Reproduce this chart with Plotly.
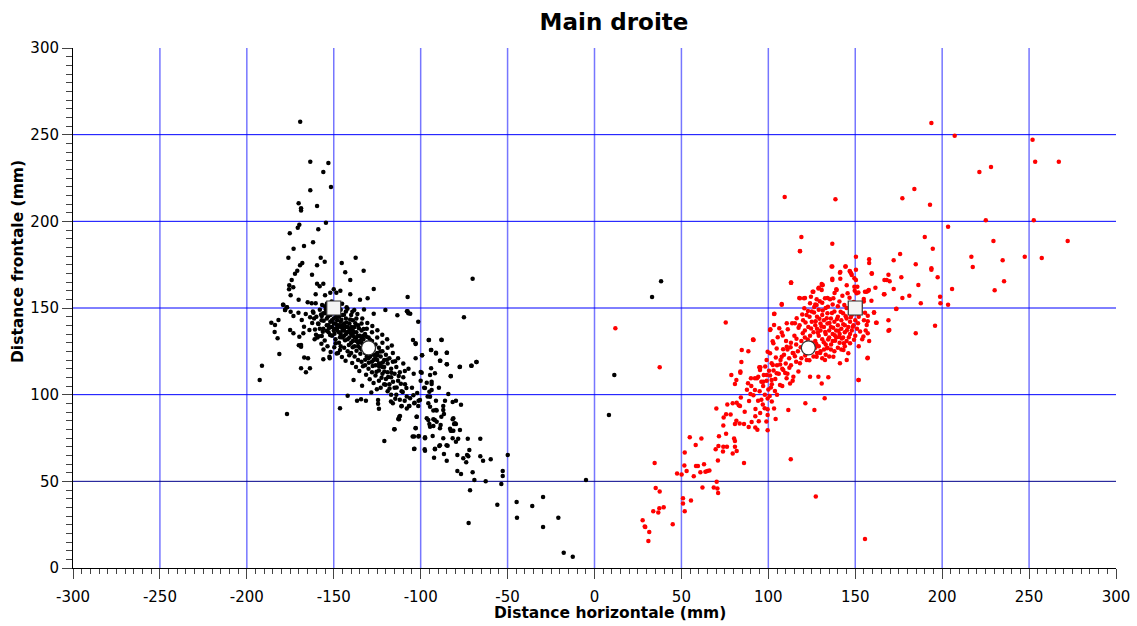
import plotly.graph_objects as go

# Main gauche (points noirs) : distance horizontale / frontale en mm
gauche = [
    (-169.3,257.5),(-163.5,234.4),(-153.1,233.7),(-156,228.5),(-163.5,217.9),(-151.6,219.8),
    (-170.2,210.4),(-168.8,207.5),(-168.8,206.2),(-159.6,208.8),(-154.5,199.2),(-169.8,198.1),
    (-170.7,196.3),(-158.9,195.4),(-175.3,193.1),(-161.9,187.9),(-173.1,184.2),(-167.1,185.8),
    (-176.1,179),(-157.5,179),(-137.4,179),(-155.2,176.7),(-169.4,174.6),(-168.1,176),
    (-159.6,174.6),(-145.4,176),(-171,171.5),(-172.3,169.8),(-162.5,169.2),(-143.4,170.6),
    (-132.8,171.5),(-174.2,166.2),(-175.6,163.1),(-140.5,166.2),(-159.6,164),(-158.1,162.5),
    (-156,164),(-173.3,161.9),(-175.7,160.8),(-127,161),(-150,160.8),(-152,158.8),(-148.5,158.8),
    (-146.2,160),(-160.4,157.9),(-155,157.3),(-174.8,157.3),(-140.5,157.9),(-170.2,154.8),
    (-134.9,154.8),(-130.5,155.6),(-107.5,156.3),(-70.1,166.9),(-179.2,151.9),(-176.9,150.4),
    (-178,148.8),(-165,153.3),(-162.7,152.7),(-160.4,152.7),(-142.6,150.4),(-138.2,148.8),
    (-132.6,149.2),(-127,146.7),(-120.3,148.8),(-107.5,148.1),(-106,146.7),(-75.1,144.6),
    (-113.4,145.8),
    (-191.3,116.7),(-192.6,108.5),(-181.3,123.5),(-176.9,88.8),(-146.4,92.1),(-142,99.4),
    (-168.8,115.2),(-166,112.9),(-163.7,115.2),(-167,121.5),(-164.8,121),(-156,120.4),(-152.3,121),
    (-185.9,141.5),(-184,136.2),(-182.3,132.5),(-136.6,96.5),(-134.3,97.3),(-131.5,96.5),
    (-124.5,96.9),(-124.5,94.8),(-124,91.9),(-120.9,73.3),(-115.2,80),(-112.9,86),(-112.3,87.3),
    (-110.9,93.5),(-106.5,93.5),(-103.7,95),(-101.4,93.5),(-102.3,87.3),(-102.9,80.8),(-103.8,75.8),
    (-103.8,68.7),(-101.1,76.2),(-97.5,75.4),(-97.5,67.7),(-100.4,96.9),(-95.6,95),(-94.6,98.8),
    (-93.7,102.7),(-93.7,107.5),(-95,83.1),(-91.9,85.4),(-92.7,81.9),(-88.1,87.3),(-91.2,91.2),
    (-87,91.2),(-87,93.5),(-91.8,68.5),(-92.3,63.6),(-88.9,70.8),(-86.6,65.8),(-85,61.9),
    (-84.5,70.6),(-81.6,74.8),(-79.7,72.9),(-78.4,74.6),(-83.1,80.4),(-81.2,86.4),(-80.3,83.5),
    (-77.4,79.6),(-82.2,79.2),(-78.9,65.2),(-75.5,63.3),(-73.3,65.2),(-73.8,61),(-72,68.1),
    (-72.6,64.4),(-72.9,74.6),(-65.7,74.6),(-78.9,56),(-76.8,54.2),(-70.1,55.2),(-69.1,50.8),
    (-71.6,44.8),(-72.4,26),(-65.7,64.4),(-64.1,61.9),(-59.7,62.7),(-62.6,50),(-77.4,116.1),
    (-70.9,116.7),(-68,118.8),(-82.7,110.8),(-49.9,65.2),(-52.8,56),(-52.8,53.1),(-53.6,48.5),
    (-55.9,36.5),(-44.8,38.1),(-44.6,29),(-35.8,35.8),(-88.1,131.7),(-85,124.2),(-94.1,125.8),
    (-91.2,124.2),(-88.9,119.6),(-85,117.5),(-95.4,131.5),(-99.2,122.7),(-99.4,112.7),(-100,113.1),
    (-104.4,131.5),(-102.9,129.6),(-101.4,142.1),(-107.1,146.9),(-107.9,148.1),
    (-29.6,41),(-29.6,23.7),(-20.8,29),(-17.7,8.8),(-12.5,6.5),(-4.9,50.8),
    (38.3,165.4),(33.1,156.3),(11.4,111.3),(8.3,88.3),
    (-179,151.9),(-177,150.4),(-174.8,147.9),(-178,148.8),(-173.2,145.4),(-170.3,147.3),
    (-168.4,143.1),(-166.1,146.5),(-163.6,144.6),(-161.7,147.3),(-161.3,144),(-158.8,140.8),
    (-156.9,145.4),(-155,146.9),(-160.2,134.6),(-156.9,133.8),(-156.3,136.3),(-154,136.9),
    (-152.1,134.4),(-148.9,129.6),(-155.9,126.1),(-152.5,121.9),(-148.3,123.8),(-146.4,125.8),
    (-183.8,140.2),(-181.8,143.1),(-175.1,137.3),(-173.2,135.4),(-169.8,133.4),(-168.8,128.6),
    (-167.5,135.4),(-167.1,139.2),(-164,137.3),(-161,131.9),(-159.4,133),(-170.1,128.5),
    (-168.8,127.7),
    (-158,149),(-156,147),(-155,151),(-154,144),(-153,148),(-152,146),(-152,142),(-151,139),
    (-150,144),(-150,141),(-149,147),(-149,138),(-148,143),(-148,140),(-147,145),(-147,136),
    (-146,142),(-146,139),(-145,146),(-145,137),(-144,141),(-144,134),(-143,139),(-143,144),
    (-142,136),(-142,132),(-141,141),(-141,138),(-140,135),(-140,130),(-139,143),(-139,137),
    (-138,133),(-138,139),(-137,131),(-137,136),(-136,140),(-136,128),(-135,134),(-135,131),
    (-134,137),(-134,126),(-133,132),(-133,129),(-132,135),(-132,124),(-131,130),(-131,127),
    (-130,133),(-130,121),(-129,128),(-129,125),(-128,131),(-128,119),(-127,126),(-127,123),
    (-126,129),(-126,117),(-125,124),(-125,120),(-124,127),(-124,114),(-123,122),(-123,118),
    (-122,125),(-122,112),(-121,120),(-121,116),(-120,123),(-120,109),(-119,118),(-119,113),
    (-118,121),(-118,106),(-117,115),(-117,110),(-116,119),(-115,112),(-115,104),(-114,116),
    (-113,108),(-112,113),(-111,102),(-110,110),(-109,106),(-108,99),
    (-153,140),(-151,143),(-150,137),(-149,141),(-148,137),(-147,140),(-146,135),(-145,140),
    (-145,133),(-144,137),(-143,135),(-142,139),(-141,133),(-140,137),(-139,131),(-139,134),
    (-138,128),(-137,133),(-136,130),(-135,127),(-134,130),(-133,134),(-132,127),(-131,122),
    (-130,126),(-129,122),(-127,120),(-126,123),(-124,118),(-122,116),(-157,143),(-156,138),
    (-154,140),(-153,136),(-151,134),(-149,132),(-147,130),(-146,128),(-144,127),(-142,125),
    (-140,124),(-138,122),(-136,120),(-134,119),(-132,117),(-130,115),(-128,113),(-126,111),
    (-124,108),(-123,104),(-121,106),(-119,102),(-117,100),(-160,145),(-159,141),(-158,138),
    (-162,148),(-146,149),(-143,148),(-140,146),(-137,144),(-134,141),(-131,138),(-128,136),
    (-125,133),(-122,130),(-119,127),(-116,124),(-113,121),(-110,118),(-107,115),(-104,112),
    (-100,108),(-105,104),(-102,101),(-98,104),(-96,99),(-112,97),(-108,92),(-114,100),(-116,95),
    (-95.2,131.5),(-102.9,129.2),(-87.9,131.5),(-93.9,125.8),(-91.2,123.8),(-84.9,124.2),
    (-88.7,119.6),(-84.9,117.5),(-77.6,116),(-70.7,116.7),(-67.8,118.8),(-82.7,110.6),
    (-99.2,122.7),(-102.9,121),(-94,115.2),(-94.6,111.3),(-91.8,112.3),(-96.5,106.9),
    (-93.7,106.2),(-97.5,103.8),(-89.5,104),(-95,101.7),(-84.1,100.4),(-81.6,95.8),(-79.7,96.5),
    (-76.8,94.2),(-86,96.5),(-91.2,96.5),(-94.6,93.1),(-92.7,90.8),(-90.8,90.8),(-86.6,88.8),
    (-95.6,85.4),(-96.5,86.4),(-92.7,85.8),(-90.8,84.4),(-88.5,82.5),(-88.9,80.6),(-94.6,81.5),
    (-81.6,85.8),(-80.8,83.1),(-82.7,79.2),(-81.2,79.2),(-79.7,83.1),(-97.5,74.8),(-93.1,76.2),
    (-87,74.8),(-89.3,70.4),(-85.1,70.8),(-91.8,68.8),(-97.7,68.5),(-103.6,68.8),(-104.6,75.8),
    (-102.9,80.6),(-101.3,75.8),(-102.3,87.3),(-106.1,97.9),(-103.5,95.4),(-101.2,96.5),
    (-111.9,87.7),(-112.5,85.8),(-115,80),(-111.1,93.3),(-106.7,93.5),(-109.2,96.5),
    (-104.2,99.6),(-117.1,96),(-114.6,97.7),
    (-157.3,146.2),(-155.8,142.7),(-154.6,149.1),(-153.2,145.3),(-152.7,138.4),(-151.4,150.2),
    (-150.8,146.9),(-149.6,135.2),(-148.7,144.8),(-147.9,138.9),(-147.2,149.3),(-146.4,133.1),
    (-145.6,143.2),(-144.8,138.7),(-144.1,146.1),(-143.5,131.4),(-142.7,141.6),(-141.9,136.2),
    (-141.3,128.6),(-140.6,143.4),(-139.8,139.1),(-139.1,127.3),(-138.4,135.8),(-137.6,141.2),
    (-136.9,125.4),(-136.2,133.9),(-135.5,138.3),(-134.7,123.6),(-134.1,132.8),(-133.4,127.1),
    (-132.8,137.9),(-131.9,120.2),(-131.2,133.4),(-130.5,129.6),(-129.8,118.4),(-129.1,131.7),
    (-128.3,126.1),(-127.6,116.5),(-126.9,128.3),(-126.2,120.9),(-125.4,113.2),(-124.7,122.6),
    (-123.9,116.3),(-123.2,124.9),(-122.5,109.8),(-121.8,118.6),(-120.9,113.4),(-120.2,105.7),
    (-119.4,120.1),(-118.7,110.2),(-117.9,103.6),(-116.8,112.7),(-115.9,107.4),(-114.7,119.3),
    (-113.8,104.2),(-112.6,110.8),(-111.4,106.3),(-110.3,101.5),(-109.1,113.6),(-108.2,103.9),
    (-156.7,151.8),(-153.9,152.6),(-151.2,153.7),(-148.4,151.1),(-145.2,152.4),(-142.1,149.6),
    (-139.3,147.8),(-136.4,146.5),(-133.6,143.9),(-130.7,141.4),(-127.8,139.6),(-124.9,137.2),
    (-122.1,134.5),(-119.3,131.9),(-116.6,128.4),(-162.4,141.3),(-160.8,137.6),(-158.6,133.7),
    (-157.1,129.4),(-155.2,131.2),(-153.6,127.9),(-151.8,124.6),(-149.7,127.3),(-147.5,124.1),
    (-145.3,121.8),(-143.2,119.6),(-141.1,122.7),(-139.4,118.3),(-137.2,115.9),(-135.3,113.7),
    (-133.2,116.4),(-131.4,111.5),(-129.3,108.9),(-127.1,106.7),(-125.2,103.1),(-133.7,105.2),
    (-138.6,108.4),(-128.4,101.2),
]

# Main droite (points rouges)
droite = [
    (193.8,256.7),(207.2,249.4),(252,247.1),(253.5,234.4),(267.1,234.4),(221.4,228.5),
    (228.1,231.3),(184,218.7),(177.1,213.3),(193,209.6),(109.4,214),(138.6,212.7),(225.1,200.6),
    (252.7,200.6),(203.4,196.9),(190,191),(229.5,188.7),(272.2,188.7),(194.6,184.2),(119,191),
    (118.2,182.7),(136.8,187.1),(216.8,179.6),(217.6,173.7),(247.5,179.6),(257.3,178.9),
    (234.8,177.5),(235.6,165.4),(230.2,160.2),(205.7,161),(175.8,181.2),(172.1,177.5),
    (184.8,175.2),(193.8,172.9),(193.8,172.1),(197.4,167.7),(169.1,169.2),(169.8,165.4),
    (166.8,166.2),(176.5,167.7),(172.1,161),(186.3,163.3),(181.1,157.1),(177.1,155.8),
    (166.8,157.9),(198.8,156.5),(199,152.7),(203.4,151.9),(187.7,152.7),(173.7,149.6),
    (169.1,142.9),(169.1,136.9),(184.8,135.4),(195.9,139.8),(158,178.1),(158,176),(159.5,169.8),
    (161.6,161.7),(159.3,154.2),(156.6,159.4),(157.8,160.4),(160.8,147.5),(162.3,141.5),
    (157.2,145.6),(157.2,142.3),(157.2,135.4),(158,131),(157.2,121.3),(150.4,179.6),(144.3,173.9),
    (141.4,170.8),(136.8,173.9),(141.4,166.9),(146.8,171.4),(147.6,170),(150.4,172.1),
    (149.5,167.1),(136.8,166.9),(145.1,163.1),(130.7,163.9),(130.9,163.1),(125.5,159.4),
    (129,161.7),(139.1,160.8),(134.1,155.8),(113.1,164.6),(107.7,151.9),(118.2,155.6),
    (120.5,155.6),(91.4,131.7),(84.7,125.8),(88.5,125),(151.8,159),(149.5,162.3),(149.7,160),
    (154.9,155.2),(154.9,153.7),(103.5,146.7),(101.2,137.7),(102.5,130.8),(99.6,124.8),
    (118.2,182.9),(12,138.3),(37.5,115.8),(75.5,141.6),(113.1,164.7),(91.2,131.8),(84.5,118.9),
    (78.7,111.4),(80.8,106.2),(81.6,108.5),(83.9,113.3),(83.9,112.7),(88.3,106.6),(90,109.5),
    (90.2,105),(91.4,99.7),(89.7,100.4),(92.3,102.7),(94.8,115.8),(95.4,115.8),(93.5,109.5),
    (96,107.5),(70.1,92),(76.4,94.3),(79.5,95),(81.8,95.4),(83.7,93.5),(83,93.9),(74.3,86.8),
    (75.7,88.7),(78.3,88.5),(81.6,85),(80.8,83.1),(83.5,83.3),(86,83.1),(88.7,81.4),(90.4,84.3),
    (92.5,87.5),(94.5,84.6),(98.9,84.5),(74.1,82.2),(75.7,77.5),(71.6,76),(74.1,70),(76.2,70),
    (80.3,74.7),(80.8,73.3),(80.8,70),(81.8,67.5),(79.5,66),(73.9,67.2),(71.3,70.4),(69.7,68.5),
    (71,62),(86,60.6),(70.3,49.7),(68.6,46.4),(70.7,45.8),(71.1,43.3),(54.8,75.4),(61.5,74.7),
    (58.2,71),(51.9,66.6),(51.7,59.1),(50.1,53.9),(47.5,54.5),(53,56),(57.1,52.9),(58.4,58.9),
    (59.5,58.9),(63,59.9),(60.9,55.2),(63.8,55.6),(64.9,56),(66.1,56.2),(62.1,46.4),(50.9,40.2),
    (50.9,37.2),(55.5,38.9),(51.9,32.7),(34.6,60.6),(35.2,46.2),(37.5,44.1),(39.8,35),(37.3,34.5),
    (36.7,32),(33.8,32.7),(27.7,27.5),(28.9,23.9),(29.2,23.7),(31.5,20.8),(31,15.6),(45,25.2),
    (112.9,62.7),(127.3,41.2),(121.3,95),(126.5,91.2),(132.4,97.9),(111.5,91.2),(99.6,91.6),
    (99.6,88.3),(104.2,86),(103.3,92),(99.6,79.5),(93.7,79.7),(92.5,81),(151.8,108.5),(155.6,16.7),
    (136.4,173.9),(144.5,173.9),(147,171),(148,169),(141.2,170.4),(136.8,166.2),(131.3,163.3),
    (130.7,160.4),(128.8,161.3),(125.9,159.4),(139.3,160.4),(145.6,158.5),(150.8,158.5),
    (151.2,162.3),(150.4,166.2),(159.5,170),(157.5,160),(155.6,159.4),(166.5,157.9),(168.1,166.2),
    (113,164.6),(107.7,152.3),(117.8,155.8),(121.1,155.8),(124.5,156.5),(127.8,155),(132.6,155.6),
    (135.5,155),(137.4,155.6),(140.9,153.7),(143.7,151.7),(127.8,151.7),(124,152.7),(120.7,149.8),
    (160.8,147.3),(162,141.5),(156.6,140.2),(154.7,133.5),(157,121),(152,108.5),(173.5,149.4),
    (169.6,137.3),(91.4,131.5),(103.3,146.5),(103.3,140.2),(101,137.3),(106.3,138.3),(110.6,141.2),
    (115.3,141.2),(107.7,135.8),(105.4,133.1),(102.9,129.6),(104.8,126.7),(101,123.9),(99,120),
    (101.9,118.1),(95.2,114.2),(94.2,110.4),(99,111.4),(104.8,112.3),(108.6,114.2),(110.5,109.4),
    (114.4,110.4),(117.3,113.3),(124,110.4),(128.8,110.4),(134.5,110),(130.7,106.5),(112.5,106.5),
    (106.7,105.6),(101.9,108.5),(97.1,107.5),(92.3,109.4),(118.2,118.1),(122.1,120),(127.8,121.9),
    (132.6,120),(137.4,121.9),(143.2,125.8),(146,123.9),(147,129.6),(114.4,123.9),(110.6,127.7),
    (107.7,121.9),(145.1,120),(141.2,118.1),
    (118,140),(120,143),(121,137),(122,146),(123,139),(124,134),(125,142),(125,148),(126,136),
    (127,140),(127,131),(128,145),(128,138),(129,134),(129,149),(130,141),(130,137),(131,132),
    (131,146),(132,139),(132,143),(133,135),(133,129),(134,141),(134,147),(135,137),(135,133),
    (136,144),(136,139),(137,131),(137,135),(138,142),(138,148),(139,137),(139,133),(140,145),
    (140,140),(141,135),(141,130),(142,143),(142,138),(143,147),(143,133),(144,140),(144,136),
    (145,144),(145,131),(146,139),(147,135),(147,142),(148,146),(148,137),(149,140),(150,134),
    (150,143),(151,138),(152,145),(119,131),(120,127),(121,133),(122,124),(123,129),(124,126),
    (125,130),(126,122),(127,127),(128,124),(129,128),(130,125),(131,121),(132,126),(133,123),
    (134,127),(135,122),(136,126),(138,125),(140,127),(142,126),(144,128),(117,125),(116,129),
    (115,134),(114,124),(113,130),(112,121),(111,126),(110,118),(109,123),(108,115),(107,120),
    (106,112),(105,117),(104,109),(103,114),(102,106),(101,111),(100,103),(99,108),(98,100),
    (97,105),(96,97),(95,102),(113,117),(116,119),(119,121),(111,112),(114,108),(108,105),
    (105,100),(102,96),(133,150),(137,152),(131,153),(127,152),(140,151),(145,150),(153,148),
    (155,143),(156,137),(154,132),(152,128),
    (121.4,141.6),(123.7,144.9),(124.6,138.2),(126.3,147.4),(127.2,142.3),(128.5,135.7),
    (129.4,143.8),(130.6,139.4),(131.3,148.6),(132.7,136.2),(133.6,144.1),(134.4,131.8),
    (135.2,141.3),(136.6,147.1),(137.3,138.6),(138.2,134.3),(139.5,143.7),(140.4,136.9),
    (141.6,147.8),(142.3,132.4),(143.1,140.6),(144.5,145.3),(145.2,137.2),(146.3,133.1),
    (147.4,144.6),(148.6,139.2),(149.3,131.7),(150.4,146.8),(151.6,141.2),(152.8,136.4),
    (125.1,126.7),(127.6,129.3),(129.8,124.1),(131.9,130.2),(133.8,126.8),(136.1,128.9),
    (138.4,131.1),(140.7,133.3),(143.4,129.7),(122.7,131.8),(119.8,135.4),(117.4,138.6),
    (116.2,132.3),(118.6,127.4),(121.2,122.6),(123.6,119.8),(115.3,122.1),(112.8,127.3),
    (110.2,130.9),(108.5,126.2),(106.8,117.4),(109.7,112.5),(112.1,115.6),(104.3,121.5),
    (102.6,117.1),(100.4,113.8),(98.2,116.2),(97.4,111.3),(101.5,104.2),(103.8,102.1),
    (99.6,97.8),(96.8,94.3),(94.1,96.5),(92.6,91.7),(95.3,89.4),(97.9,92.1),(100.8,99.2),
    (88.9,96.4),(86.4,90.1),(84.2,98.3),(87.7,102.8),(155.6,147.2),(153.2,151.3),(149.1,153.5),
    (146.7,155.9),(142.6,157.1),(138.1,158.6),(134.3,150.7),(129.6,153.9),(126.4,150.6),
    (122.8,148.2),(119.5,146.3),(116.3,144.1),(113.7,141.2),(111.2,137.8),(108.3,134.2),
]

# Positions moyennes (carré = cible, cercle = moyenne observée)
cibles_x = [-150, 150]
cibles_y = [150, 150]
moyennes_x = [-130, 123]
moyennes_y = [127, 127]

ticks_x = list(range(-300, 301, 50))
ticks_y = list(range(0, 301, 50))

gx, gy = zip(*gauche)
dx, dy = zip(*droite)

fig = go.Figure()
fig.add_trace(go.Scatter(x=gx, y=gy, mode="markers",
                         marker=dict(color="black", size=4.5, line=dict(width=0)),
                         showlegend=False, hoverinfo="x+y"))
fig.add_trace(go.Scatter(x=dx, y=dy, mode="markers",
                         marker=dict(color="#ff0000", size=4.5, line=dict(width=0)),
                         showlegend=False, hoverinfo="x+y"))
fig.add_trace(go.Scatter(x=moyennes_x, y=moyennes_y, mode="markers",
                         marker=dict(symbol="circle", size=14, color="white",
                                     line=dict(color="#333333", width=1.2)),
                         showlegend=False))
fig.add_trace(go.Scatter(x=cibles_x, y=cibles_y, mode="markers",
                         marker=dict(symbol="square", size=14, color="#f4f4f4",
                                     line=dict(color="#333333", width=1.2)),
                         showlegend=False))

# Grille : verticales bleu clair, horizontales bleu
shapes = []
for v in ticks_x[1:-1]:
    shapes.append(dict(type="line", xref="x", yref="y", x0=v, x1=v, y0=0, y1=300,
                       line=dict(color="rgba(60,60,255,0.7)", width=1.5), layer="below"))
for h in ticks_y[1:-1]:
    col = "#00008b" if h == 50 else "#0000ff"
    shapes.append(dict(type="line", xref="x", yref="y", x0=-300, x1=300, y0=h, y1=h,
                       line=dict(color=col, width=1), layer="below"))

font_family = "DejaVu Sans"
fig.update_layout(
    width=1137, height=626,
    margin=dict(l=73, r=21, t=48, b=58),
    paper_bgcolor="white", plot_bgcolor="white",
    shapes=shapes,
    font=dict(family=font_family, size=15, color="black"),
    title=dict(text="<b>Main droite</b>", x=614 / 1137, xanchor="center",
               y=1 - 22 / 626, yanchor="middle",
               font=dict(size=23, family=font_family)),
    annotations=[
        dict(text="<b>Distance horizontale (mm)</b>", xref="paper", yref="paper",
             x=(610 - 73) / 1043, y=-(613 - 568) / 520, xanchor="center", yanchor="middle",
             showarrow=False, font=dict(size=15.5)),
        dict(text="<b>Distance frontale (mm)</b>", xref="paper", yref="paper",
             x=-(73 - 18) / 1043, y=(568 - 262) / 520, xanchor="center", yanchor="middle",
             textangle=-90, showarrow=False, font=dict(size=15.5)),
    ],
    xaxis=dict(range=[-300, 300], tickvals=ticks_x, ticktext=[str(v) for v in ticks_x],
               showgrid=False, zeroline=False, automargin=False,
               showline=True, linecolor="black", linewidth=1,
               ticks="outside", ticklen=10, tickcolor="#444444", tickwidth=1,
               ticklabelstandoff=5,
               minor=dict(dtick=5, tick0=0, ticks="outside", ticklen=5, tickcolor="#444444", showgrid=False),
               tickfont=dict(size=15)),
    yaxis=dict(range=[0, 300], tickvals=ticks_y, ticktext=[str(v) for v in ticks_y],
               showgrid=False, zeroline=False, automargin=False,
               showline=True, linecolor="black", linewidth=1,
               ticks="outside", ticklen=10, tickcolor="#444444", tickwidth=1,
               minor=dict(dtick=5, tick0=0, ticks="outside", ticklen=6, tickcolor="#444444", showgrid=False),
               tickfont=dict(size=15)),
)

fig.write_html("out.html")
